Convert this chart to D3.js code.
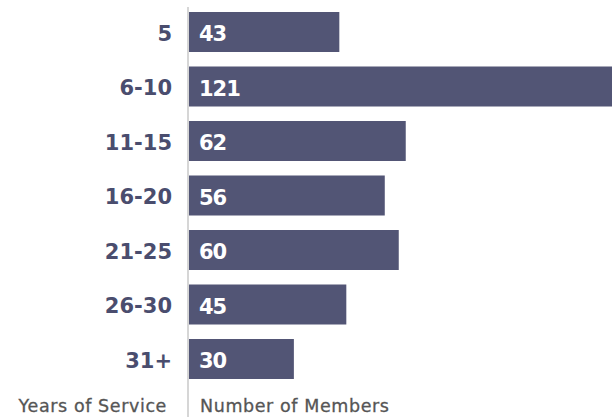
<!DOCTYPE html>
<html>
<head>
<meta charset="utf-8">
<script src="https://cdnjs.cloudflare.com/ajax/libs/d3/7.8.5/d3.min.js"></script>
<style>
  body { margin: 0; background: #fff; }
  text { font-family: "DejaVu Sans", sans-serif; }
</style>
</head>
<body>
<div id="chart"></div>
<script>
const categories = ["5", "6-10", "11-15", "16-20", "21-25", "26-30", "31+"];
const members = [43, 121, 62, 56, 60, 45, 30];

const width = 612, height = 417;
const axisX = 188;

const svg = d3.select("#chart").append("svg")
  .attr("width", width)
  .attr("height", height);

const x = d3.scaleLinear()
  .domain([0, 121])
  .range([axisX + 1, 612]);

const y = d3.scaleBand()
  .domain(categories)
  .range([4.75, 386.25])
  .paddingInner(0.266)
  .paddingOuter(0.133);

svg.selectAll("rect.bar")
  .data(members)
  .enter().append("rect")
  .attr("class", "bar")
  .attr("x", x(0))
  .attr("y", (d, i) => y(categories[i]))
  .attr("width", d => x(d) - x(0))
  .attr("height", y.bandwidth())
  .style("fill", "#525575");

// value labels inside bars
svg.selectAll("text.val")
  .data(members)
  .enter().append("text")
  .attr("class", "val")
  .attr("x", x(0) + 10)
  .attr("y", (d, i) => y(categories[i]) + y.bandwidth() / 2 + 9)
  .style("fill", "#fff")
  .style("font-size", "21px")
  .style("letter-spacing", "-1px")
  .style("font-weight", 700)
  .text(d => d);

// category labels
svg.append("g")
  .attr("transform", "translate(" + (axisX - 16) + ",0)")
  .call(d3.axisLeft(y).tickSize(0).tickPadding(0))
  .call(g => g.select(".domain").remove())
  .selectAll("text")
  .attr("dy", null)
  .attr("y", 8.5)
  .style("fill", "#4a4d6e")
  .style("font-size", "21px")
  .style("font-weight", 700)
  .style("font-family", "'DejaVu Sans', sans-serif");

// vertical axis line
svg.append("line")
  .attr("x1", axisX).attr("x2", axisX)
  .attr("y1", 7).attr("y2", height)
  .style("stroke", "#bbb")
  .style("stroke-width", 1.2);

svg.append("text")
  .attr("x", axisX - 21)
  .attr("y", 412)
  .attr("text-anchor", "end")
  .style("fill", "#555")
  .style("font-size", "17.5px")
  .style("letter-spacing", "0.6px")
  .style("stroke", "#555")
  .style("stroke-width", 0.3)
  .text("Years of Service");

svg.append("text")
  .attr("x", axisX + 12)
  .attr("y", 412)
  .style("fill", "#555")
  .style("font-size", "17.5px")
  .style("letter-spacing", "0.6px")
  .style("stroke", "#555")
  .style("stroke-width", 0.3)
  .text("Number of Members");
</script>
</body>
</html>
